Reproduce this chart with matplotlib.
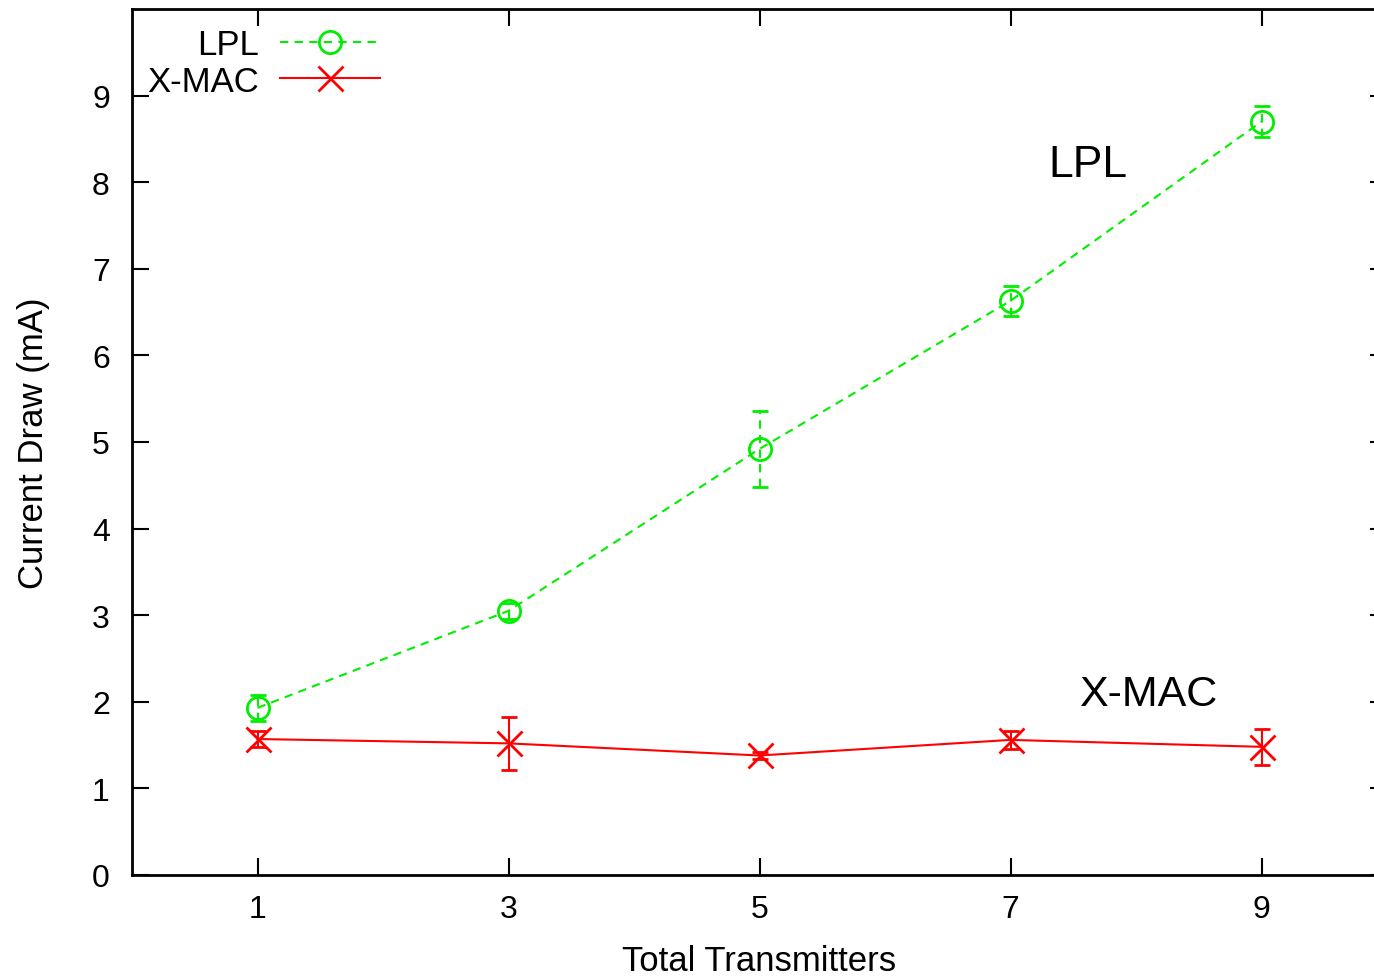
import matplotlib.pyplot as plt
from matplotlib.lines import Line2D

plt.rcParams['font.family'] = ['Liberation Sans', 'DejaVu Sans']

# data
transmitters = [1, 3, 5, 7, 9]
lpl_mean = [1.93, 3.05, 4.92, 6.63, 8.70]
lpl_err = [0.15, 0.09, 0.44, 0.17, 0.18]
xmac_mean = [1.57, 1.52, 1.38, 1.56, 1.48]
xmac_err = [0.09, 0.31, 0.04, 0.10, 0.21]

green = '#00ee00'
red = '#ff0000'

fig = plt.figure(figsize=(13.74, 9.78), dpi=100)
# right spine sits just outside the picture, like the original crop
ax = fig.add_axes([132/1374, 102/978, 1255/1374, 866/978])

lpl = ax.errorbar(transmitters, lpl_mean, yerr=lpl_err, color=green,
                  linestyle='--', dashes=(4, 3), linewidth=1.5,
                  marker='o', markersize=16, markerfacecolor='none',
                  markeredgewidth=2, capsize=5.5, capthick=2, elinewidth=1.5)
lpl[2][0].set_linestyle((0, (4, 3)))

ax.errorbar(transmitters, xmac_mean, yerr=xmac_err, color=red,
            linestyle='-', linewidth=1.5, marker='x', markersize=18,
            markeredgewidth=2, capsize=5.5, capthick=1.5, elinewidth=1.5)

ax.set_xlim(0, 10)
ax.set_ylim(0, 10)
ax.set_xticks(transmitters)
ax.set_yticks(range(0, 10))

ax.tick_params(direction='in', length=12, width=1.5, labelsize=23,
               top=True, right=True, pad=14)
ax.tick_params(axis='y', pad=16)
for s in ax.spines.values():
    s.set_linewidth(2)

ax.set_xlabel('Total Transmitters', fontsize=25, labelpad=14)
ax.set_ylabel('Current Draw (mA)', fontsize=25, labelpad=30)

ax.text(7.62, 8.21, 'LPL', fontsize=32, ha='center', va='center')
ax.text(8.10, 2.09, 'X-MAC', fontsize=31, ha='center', va='center')

handles = [
    Line2D([], [], color=green, linestyle='--', dashes=(4, 3), linewidth=1.5,
           marker='o', markersize=16, markerfacecolor='none', markeredgewidth=2),
    Line2D([], [], color=red, linewidth=1.5, marker='x', markersize=18,
           markeredgewidth=2),
]
ax.legend(handles, ['LPL', 'X-MAC'], loc='upper left',
          bbox_to_anchor=(0.012, 0.978), frameon=False, markerfirst=False,
          fontsize=25, handlelength=2.9, handletextpad=0.6,
          labelspacing=0.1, borderpad=0, borderaxespad=0, numpoints=1)

plt.savefig('out.png', dpi=100)
